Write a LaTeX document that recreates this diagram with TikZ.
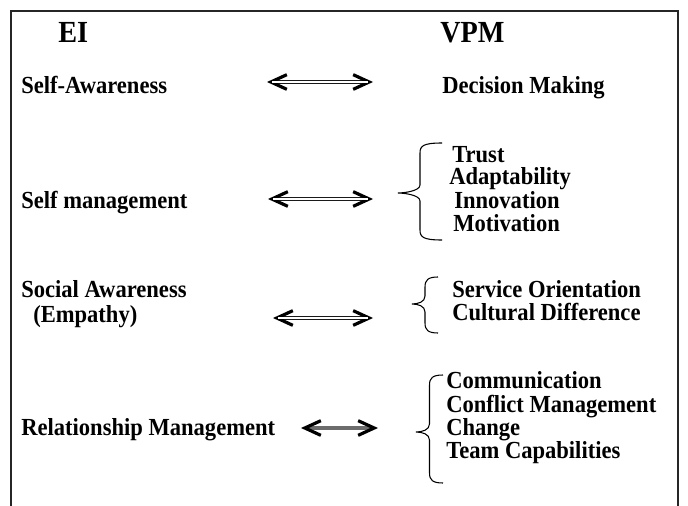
\documentclass[tikz,border=0pt]{standalone}
\usepackage{fontspec}
\setmainfont[FakeStretch=0.92]{Liberation Serif}
\usetikzlibrary{arrows.meta}

\begin{document}
\begin{tikzpicture}[x=0.75pt, y=-0.75pt,
	every node/.style={inner sep=0pt, anchor=base west, font=\fontsize{18.4}{18.4}\selectfont\bfseries},
	head/.style={font=\fontsize{23}{23}\selectfont\bfseries},
	barb/.tip={Straight Barb[length=12pt,width=11pt,line width=2.4pt,color=black]},
	link/.style={barb-barb, line width=3pt, black!90,
		postaction={draw=white, -, line width=1.1pt, shorten <=4pt, shorten >=4pt}},
	greylink/.style={barb-barb, line width=2.6pt, gray!85!black},
	curly/.style={line width=0.8pt},
	frame/.style={line width=1.6pt, black!85}]

	\useasboundingbox (0,0) rectangle (688,506);
	\draw[frame] (11,506) -- (11,11) -- (678,11) -- (678,506);

	% column heads
	\node[head] (ei) at (58,43) {EI};
	\node[head] (vpm) at (440,43) {VPM};

	% left column
	\node (selfaw) at (21,94) {Self-Awareness};
	\node (selfman) at (21,208) {Self management};
	\node (social) at (21,297) {Social Awareness};
	\node (empathy) at (33,322) {(Empathy)};
	\node (relation) at (21,435) {Relationship Management};

	% right column
	\node (decision) at (442,94) {Decision Making};
	\node (trust) at (452,162) {Trust};
	\node (adapt) at (449,185) {Adaptability};
	\node (innov) at (454,208) {Innovation};
	\node (motiv) at (453,231) {Motivation};
	\node (service) at (452,297) {Service Orientation};
	\node (cultural) at (452,320) {Cultural Difference};
	\node (comm) at (446,388) {Communication};
	\node (conflict) at (446,412) {Conflict Management};
	\node (change) at (446,435) {Change};
	\node (team) at (446,458) {Team Capabilities};

	% arrow ends
	\coordinate (sa-l) at (267,82);
	\coordinate (sa-r) at (373,82);
	\coordinate (sm-l) at (268,199);
	\coordinate (sm-r) at (373,199);
	\coordinate (so-l) at (273,318);
	\coordinate (so-r) at (373,318);
	\coordinate (rm-l) at (301,428);
	\coordinate (rm-r) at (378,428);

	\draw[link] (sa-l) -- (sa-r);
	\draw[link] (sm-l) -- (sm-r);
	\draw[link] (so-l) -- (so-r);
	\draw[greylink] (rm-l) -- (rm-r);

	% braces: end x / tip x / top y / tip y / bottom y
	\foreach \xe/\xt/\yt/\ym/\yb in {442/398/143/193/240, 438/412/277/304/333, 443/416/375/432/483}{
		\pgfmathsetmacro\xv{(\xe+\xt)/2}
		\draw[curly] (\xe,\yt) .. controls (\xv+3,\yt) and (\xv,\yt+3) .. (\xv,\yt+10)
			-- (\xv,\ym-8) .. controls (\xv,\ym-2) and (\xt+6,\ym) .. (\xt,\ym)
			.. controls (\xt+6,\ym) and (\xv,\ym+2) .. (\xv,\ym+8)
			-- (\xv,\yb-10) .. controls (\xv,\yb-3) and (\xv+3,\yb) .. (\xe,\yb);
	}
\end{tikzpicture}
\end{document}
